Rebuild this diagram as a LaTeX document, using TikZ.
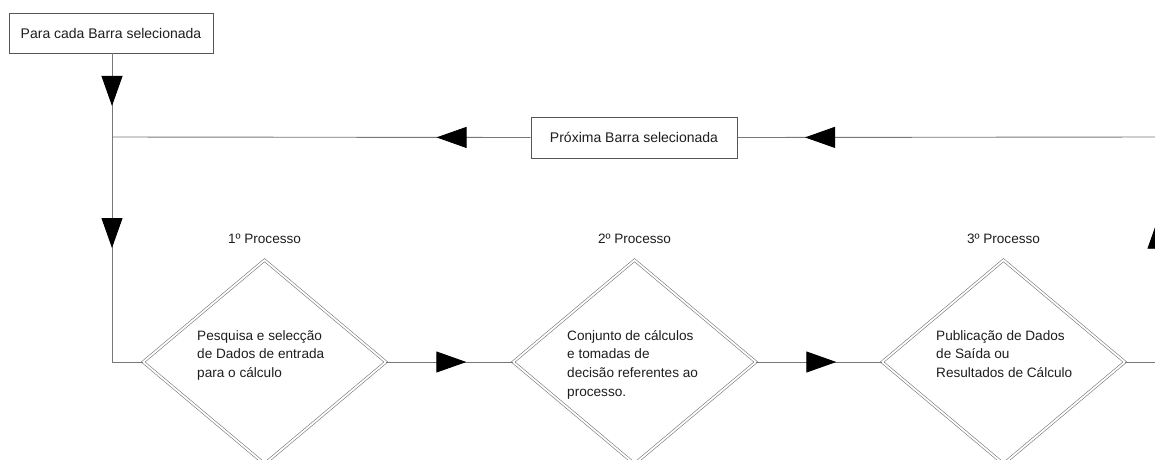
\documentclass[tikz,border=0pt]{standalone}
\usepackage{fontspec}
\setmainfont{Liberation Sans}
\usetikzlibrary{shapes.geometric,arrows.meta,decorations.markings}
\definecolor{ln}{HTML}{777777}
\definecolor{bx}{HTML}{555555}
\definecolor{tx}{HTML}{1E1E1E}
\begin{document}
\begin{tikzpicture}[x=1pt,y=-1pt,
  box/.style={draw=bx, line width=0.9pt, fill=white, minimum width=204pt, minimum height=40pt, inner sep=0pt, font=\fontsize{14}{16}\selectfont, text=tx},
  proc/.style={diamond, draw=ln, double=white, double distance=1.8pt, line width=0.6pt, minimum width=243pt, minimum height=204pt, inner sep=0pt},
  dtext/.style={anchor=north west, align=left, inner sep=0pt, text=tx, font=\fontsize{13.6}{18.7}\selectfont},
  plabel/.style={inner sep=0pt, text=tx, font=\fontsize{13.6}{16}\selectfont},
  conn/.style={draw=ln, line width=0.9pt},
  tipat/.style={postaction={decorate}, decoration={markings, mark=at position #1 with {\arrow[black]{Triangle[length=30pt,width=21pt]}}}}
]
\fill[white] (0,0) rectangle (1155,459);
\useasboundingbox (0,0) rectangle (1155,459);

\node[box] (b1) at (111,33) {Para cada Barra selecionada};
\node[box, minimum width=206pt, minimum height=41pt] (b2) at (634,137.5) {Próxima Barra selecionada};
\coordinate (j1) at (112,137);
\coordinate (c1) at (1158,137);

\node[proc] (d1) at (264.5,362) {};
\node[proc] (d2) at (634.5,362) {};
\node[proc] (d3) at (1003.5,362) {};

\node[plabel] (l1) at (264.5,239) {1º Processo};
\node[plabel] (l2) at (634.5,239) {2º Processo};
\node[plabel] (l3) at (1003.5,239) {3º Processo};

\node[dtext] (t1) at (197,330) {Pesquisa e selecção\\de Dados de entrada\\para o cálculo};
\node[dtext] (t2) at (567,330) {Conjunto de cálculos\\e tomadas de\\decisão referentes ao\\processo.};
\node[dtext] (t3) at (936,330) {Publicação de Dados\\de Saída ou\\Resultados de Cálculo};

\draw[conn, tipat=52.5pt] (b1.south -| j1) -- (j1);
\draw[conn, tipat=94pt] (b2.west) -- (j1);
\draw[conn, tipat=111pt] (j1) |- (d1.west);
\draw[conn, tipat=80pt] (d1.east) -- (d2.west);
\draw[conn, tipat=80pt] (d2.east) -- (d3.west);
\draw[conn, tipat=176pt] (d3.east) -| (c1);
\draw[conn, tipat=353pt] (c1) -- (b2.east);
\end{tikzpicture}
\end{document}
